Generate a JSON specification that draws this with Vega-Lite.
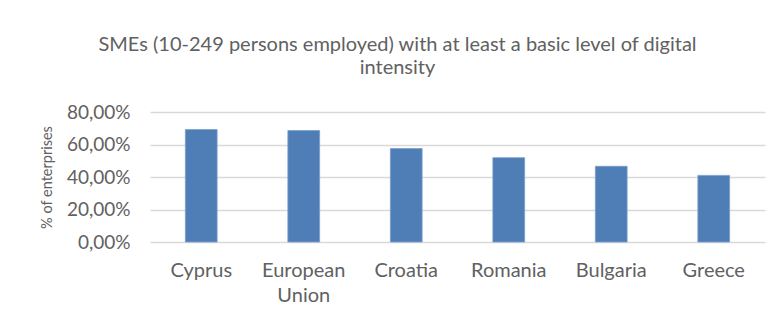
{
  "$schema": "https://vega.github.io/schema/vega-lite/v6.json",
  "autosize": {"type": "none"},
  "width": 615,
  "height": 130,
  "padding": {"left": 150, "top": 112, "right": 19, "bottom": 80},
  "background": "white",
  "title": {
    "text": ["SMEs (10-249 persons employed) with at least a basic level of digital", "intensity"],
    "font": "Lato",
    "fontSize": 20,
    "fontWeight": "normal",
    "color": "#616161",
    "anchor": "middle",
    "dx": -60,
    "offset": 25,
    "lineHeight": 23
  },
  "data": {
    "values": [
      {"country": "Cyprus", "value": 69.2},
      {"country": "European Union", "value": 68.6},
      {"country": "Croatia", "value": 57.5},
      {"country": "Romania", "value": 51.9},
      {"country": "Bulgaria", "value": 46.6},
      {"country": "Greece", "value": 41.0}
    ]
  },
  "mark": {"type": "bar", "color": "#4F7EB7", "stroke": "#7A9ECB", "strokeWidth": 0.8},
  "encoding": {
    "x": {
      "field": "country",
      "type": "nominal",
      "sort": null,
      "scale": {"paddingInner": 0.69, "paddingOuter": 0.345},
      "axis": {
        "title": null,
        "labelAngle": 0,
        "labelFont": "Lato",
        "labelFontSize": 20,
        "labelColor": "#616161",
        "labelPadding": 18,
        "labelLineHeight": 25,
        "ticks": false,
        "domain": false,
        "labelExpr": "datum.label == 'European Union' ? ['European', 'Union'] : datum.label"
      }
    },
    "y": {
      "field": "value",
      "type": "quantitative",
      "scale": {"domain": [0, 80], "nice": false},
      "axis": {
        "title": "% of enterprises",
        "titleFont": "Lato",
        "titleFontSize": 14.5,
        "titleFontWeight": "normal",
        "titleColor": "#616161",
        "titlePadding": 12,
        "values": [0, 20, 40, 60, 80],
        "labelExpr": "replace(format(datum.value, '.2f'), '.', ',') + '%'",
        "labelFont": "Lato",
        "labelFontSize": 19,
        "labelColor": "#616161",
        "labelPadding": 20,
        "ticks": false,
        "domain": false,
        "grid": true,
        "gridColor": "#D9D9D9",
        "gridWidth": 1.3
      }
    }
  },
  "config": {"view": {"stroke": null}}
}
